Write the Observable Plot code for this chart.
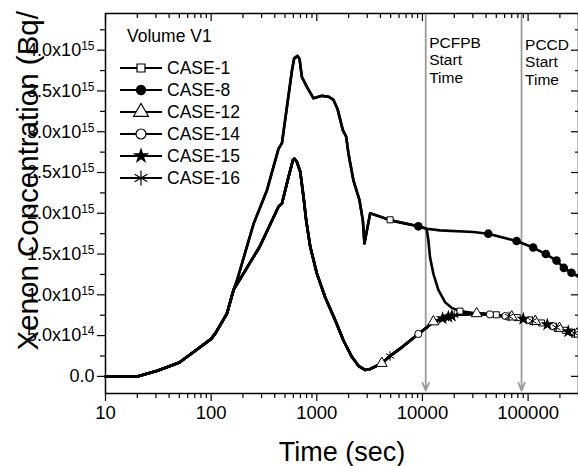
<!DOCTYPE html>
<html><head><meta charset="utf-8">
<script src="https://cdn.jsdelivr.net/npm/d3@7"></script>
<script src="https://cdn.jsdelivr.net/npm/@observablehq/plot@0.6"></script>
<style>body{margin:0;background:#fff;} svg{display:block}</style>
</head><body><div id="chart"></div>
<script>
// ---------- data (concentration in units of 1e15) ----------
const caseNames = ["CASE-1", "CASE-8", "CASE-12", "CASE-14", "CASE-15", "CASE-16"];
const legendTitle = "Volume V1";

const earlyTime = [10, 20, 31, 50, 79, 100, 110, 141, 163];
const earlyConc = [0, 0, 0.07, 0.17, 0.36, 0.46, 0.53, 0.77, 1.06];

const upperTime = [176, 218, 252, 337, 434, 468, 521, 582, 611, 657, 687, 723, 806, 931, 1117, 1291, 1440, 1570, 1764, 1897, 1995, 2225, 2535, 2730, 2825, 3200, 5130, 9140, 10960];
const upperConc = [1.18, 1.59, 1.87, 2.28, 2.79, 2.86, 3.30, 3.75, 3.90, 3.93, 3.89, 3.67, 3.55, 3.41, 3.44, 3.43, 3.39, 3.28, 3.02, 2.94, 2.73, 2.40, 2.16, 1.91, 1.63, 2.00, 1.91, 1.84, 1.81];

const case8TailTime = [14660, 30300, 42000, 77800, 111700, 147200, 185800, 218000, 257600, 300000];
const case8TailConc = [1.79, 1.77, 1.75, 1.66, 1.58, 1.50, 1.42, 1.33, 1.27, 1.22];

const case1DropTime = [11380, 11800, 12680, 14140, 16370, 18930, 22650];
const case1DropConc = [1.67, 1.46, 1.26, 1.06, 0.91, 0.84, 0.80];

const lowerTime = [288, 434, 468, 541, 594, 615, 648, 697, 749, 794, 867, 1002, 1200, 1492, 1788, 2146, 2478, 2865, 3200, 4120, 4940, 6140, 9140, 10960, 12680, 17600, 22650, 32600, 43500, 77800, 104000, 139000, 185800, 257600, 290000];
const lowerConc = [1.59, 2.08, 2.12, 2.45, 2.65, 2.67, 2.63, 2.51, 2.20, 1.91, 1.59, 1.26, 0.97, 0.69, 0.44, 0.24, 0.13, 0.08, 0.09, 0.16, 0.25, 0.34, 0.52, 0.60, 0.67, 0.73, 0.76, 0.77, 0.76, 0.72, 0.69, 0.65, 0.60, 0.54, 0.52];

// marker positions per case
const case1MarkTime = [4940, 22650, 50000, 79000, 134000, 225000];
const case1MarkConc = [1.92, 0.80, 0.755, 0.72, 0.655, 0.565];
const case8MarkTime = [9140, 42000, 77800, 111700, 147200, 185800, 218000, 257600];
const case8MarkConc = [1.84, 1.75, 1.66, 1.58, 1.50, 1.42, 1.33, 1.27];
const case12MarkTime = [4120, 12680, 32600, 70000, 117000, 198000, 290000];
const case12MarkConc = [0.16, 0.67, 0.77, 0.73, 0.675, 0.59, 0.52];
const case14MarkTime = [9140, 43500, 61000, 103000, 173000, 257000];
const case14MarkConc = [0.52, 0.76, 0.74, 0.69, 0.615, 0.54];
const case15MarkTime = [15500, 17600, 19000, 90000, 152000, 240000];
const case15MarkConc = [0.71, 0.73, 0.74, 0.705, 0.635, 0.55];
const case16MarkTime = [4940, 20000, 66000, 110000, 185000, 275000];
const case16MarkConc = [0.25, 0.75, 0.735, 0.68, 0.60, 0.53];

const eventTimes = [10740, 86700];
const eventLabels = ["PCFPB\nStart\nTime", "PCCD\nStart\nTime"];

const xTicks = [10, 100, 1000, 10000, 100000];
const xTickLabels = ["10", "100", "1000", "10000", "100000"];
const xMinorTicks = [20,30,40,50,60,70,80,90,200,300,400,500,600,700,800,900,2000,3000,4000,5000,6000,7000,8000,9000,20000,30000,40000,50000,60000,70000,80000,90000,200000,300000];
const yTicks = [0, 0.5, 1, 1.5, 2, 2.5, 3, 3.5, 4];
const yTickLabels = ["0.0", "5.0x10^14", "1.0x10^15", "1.5x10^15", "2.0x10^15", "2.5x10^15", "3.0x10^15", "3.5x10^15", "4.0x10^15"];
const yMinorTicks = [0.25, 0.75, 1.25, 1.75, 2.25, 2.75, 3.25, 3.75, 4.25];
const xDomain = [10, 300000];
const yDomain = [-0.21, 4.45];
const xLabel = "Time (sec)";
const yLabel = "Xenon Concentration (Bq/";

// ---------- build tables ----------
const rows = [];
function add(name, ts, vs) { ts.forEach((t, i) => rows.push({name, t, v: vs[i]})); }
// CASE-8
add("CASE-8", earlyTime, earlyConc); add("CASE-8", upperTime, upperConc); add("CASE-8", case8TailTime, case8TailConc);
// CASE-1
add("CASE-1", earlyTime, earlyConc); add("CASE-1", upperTime, upperConc); add("CASE-1", case1DropTime, case1DropConc);
add("CASE-1", lowerTime.filter(t => t > 22650), lowerConc.filter((v, i) => lowerTime[i] > 22650));
// lower group
for (const n of ["CASE-12", "CASE-14", "CASE-15", "CASE-16"]) { add(n, earlyTime, earlyConc); add(n, lowerTime, lowerConc); }

function pts(ts, vs) { return ts.map((t, i) => ({t, v: vs[i]})); }

const font = "Liberation Sans, Arial, Helvetica, sans-serif";
const fmtX = d => xTickLabels[xTicks.indexOf(d)];
const fmtY = d => yTickLabels[yTicks.indexOf(d)];

const chart = Plot.plot({
  width: 578, height: 466,
  marginLeft: 105, marginRight: 0, marginTop: 13, marginBottom: 73,
  x: {type: "log", domain: xDomain},
  y: {domain: yDomain},
  style: {fontFamily: font, background: "white", color: "black"},
  marks: [
    Plot.axisX(xTicks, {anchor: "bottom", tickSize: 8, tickPadding: 4, tickFormat: fmtX, fontSize: 18.5, label: null, strokeWidth: 1.2}),
    Plot.axisX(xMinorTicks, {anchor: "bottom", tickSize: 5, tickFormat: () => "", label: null, strokeWidth: 1.2}),
    Plot.axisX(xTicks, {anchor: "top", tickSize: -7, tickFormat: () => "", label: null, strokeWidth: 1.2}),
    Plot.axisX(xMinorTicks, {anchor: "top", tickSize: -4, tickFormat: () => "", label: null, strokeWidth: 1.2}),
    Plot.axisY(yTicks, {anchor: "left", tickSize: 8, tickPadding: 3, tickFormat: fmtY, fontSize: 18, label: null, strokeWidth: 1.2}),
    Plot.axisY(yMinorTicks, {anchor: "left", tickSize: 5, tickFormat: () => "", label: null, strokeWidth: 1.2}),
    Plot.axisY(yTicks, {anchor: "right", tickSize: -8, tickFormat: () => "", label: null, strokeWidth: 1.2}),
    Plot.axisY(yMinorTicks, {anchor: "right", tickSize: -4, tickFormat: () => "", label: null, strokeWidth: 1.2}),
    Plot.arrow(eventTimes, {x1: d => d, x2: d => d, y1: () => yDomain[1], y2: () => yDomain[0],
      stroke: "#9a9a9a", strokeWidth: 1.8, headLength: 7, headAngle: 45, insetStart: 2, insetEnd: 3}),
    Plot.text([eventTimes[0]], {x: d => d, frameAnchor: "top", dx: 3.5, dy: 22, text: () => eventLabels[0],
      textAnchor: "start", lineAnchor: "top", fontSize: 15.5, lineHeight: 1.12}),
    Plot.text([eventTimes[1]], {x: d => d, frameAnchor: "top", dx: 3.5, dy: 24, text: () => eventLabels[1],
      textAnchor: "start", lineAnchor: "top", fontSize: 15.5, lineHeight: 1.12}),
    Plot.line(rows, {x: "t", y: "v", z: "name", stroke: "black", strokeWidth: 2.6, strokeLinejoin: "round"}),
    Plot.dot(pts(case1MarkTime, case1MarkConc), {x: "t", y: "v", symbol: "square", r: 3.4, fill: "white", stroke: "black", strokeWidth: 1}),
    Plot.dot(pts(case8MarkTime, case8MarkConc), {x: "t", y: "v", symbol: "circle", r: 4.3, fill: "black", stroke: "none"}),
    Plot.dot(pts(case12MarkTime, case12MarkConc), {x: "t", y: "v", symbol: "triangle", r: 4, fill: "white", stroke: "black", strokeWidth: 1}),
    Plot.dot(pts(case14MarkTime, case14MarkConc), {x: "t", y: "v", symbol: "circle", r: 3.6, fill: "white", stroke: "black", strokeWidth: 1}),
    Plot.dot(pts(case15MarkTime, case15MarkConc), {x: "t", y: "v", symbol: "star", r: 4.3, fill: "black", stroke: "none"}),
    Plot.dot(pts(case16MarkTime, case16MarkConc), {x: "t", y: "v", symbol: "asterisk", r: 4.5, fill: "none", stroke: "black", strokeWidth: 1}),
    Plot.frame({stroke: "black", strokeWidth: 1.5}),
    Plot.text([xLabel], {frameAnchor: "bottom", dy: 67, text: d => d, fontSize: 27, lineAnchor: "bottom"}),
    Plot.text([yLabel], {frameAnchor: "left", dx: -68, dy: 147, text: d => d, fontSize: 29.5, rotate: -90,
      textAnchor: "start", lineAnchor: "bottom"})
  ]
});

document.getElementById("chart").appendChild(chart);
const svg = d3.select(chart);

// superscript exponents in tick labels
svg.selectAll("text").each(function() {
  const s = this.textContent;
  if (s.includes("^")) {
    const [base, exp] = s.split("^");
    const t = d3.select(this);
    t.text(null);
    t.append("tspan").text(base);
    t.append("tspan").attr("dy", "-0.5em").attr("font-size", "12px").text(exp);
  }
});

// legend
const ml = 105, mt = 13;
const lg = svg.append("g").attr("font-family", font).attr("font-size", 17.5)
  .attr("fill", "black").attr("text-anchor", "start");
lg.append("text").attr("x", ml + 22).attr("y", mt + 29).text(legendTitle);
const legendSymbols = [
  {type: d3.symbolSquare, r: 4.5, fill: "white", stroke: "black"},
  {type: d3.symbolCircle, r: 5.2, fill: "black", stroke: "none"},
  {type: d3.symbolTriangle, r: 5.5, fill: "white", stroke: "black"},
  {type: d3.symbolCircle, r: 5, fill: "white", stroke: "black"},
  {type: d3.symbolStar, r: 5.2, fill: "black", stroke: "none"},
  {type: d3.symbolAsterisk, r: 7, fill: "none", stroke: "black"}
];
caseNames.forEach((name, i) => {
  const cy = mt + 55 + i * 22;
  lg.append("line").attr("x1", ml + 15).attr("x2", ml + 57).attr("y1", cy).attr("y2", cy)
    .attr("stroke", "black").attr("stroke-width", 2);
  const s = legendSymbols[i];
  lg.append("path").attr("transform", `translate(${ml + 36},${cy})`)
    .attr("d", d3.symbol().type(s.type).size(Math.PI * s.r * s.r)())
    .attr("fill", s.fill).attr("stroke", s.stroke).attr("stroke-width", 1.2);
  lg.append("text").attr("x", ml + 62).attr("y", cy + 6.3).text(name);
});
</script></body></html>
